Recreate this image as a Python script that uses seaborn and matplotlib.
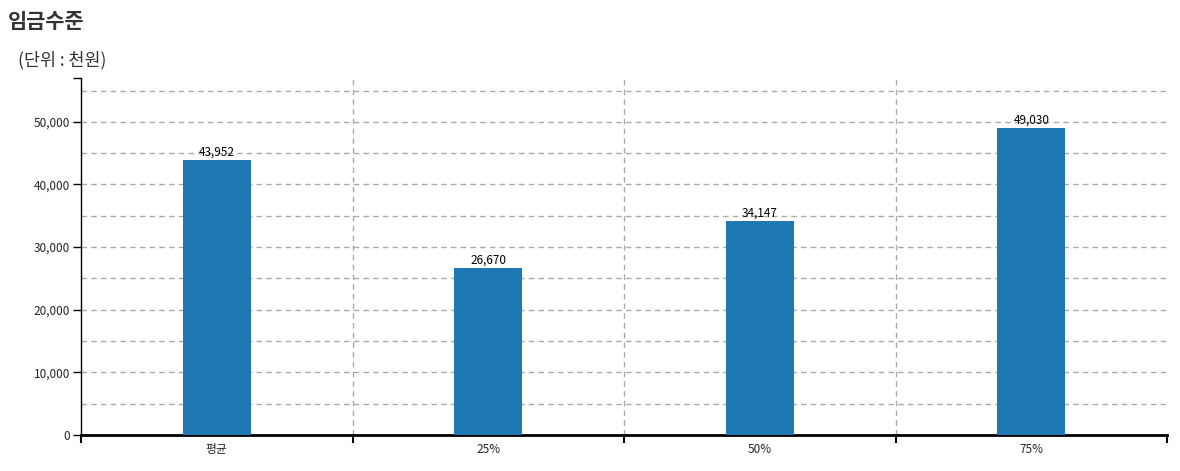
import numpy as np
import pandas as pd
import matplotlib
matplotlib.use('Agg')
import matplotlib.pyplot as plt
import seaborn as sns

categories = ['평균', '25%', '50%', '75%']
wages = [43952, 26670, 34147, 49030]

df = pd.DataFrame({'구분': categories, '임금': wages})

sns.set_style('white')
plt.rcParams['font.family'] = ['Noto Sans CJK KR', 'DejaVu Sans']

fig = plt.figure(figsize=(11.8, 4.71), dpi=100)
ax = fig.add_axes([81 / 1180, 36 / 471, (1167 - 81) / 1180, (435 - 78) / 471])

sns.barplot(x='구분', y='임금', data=df, color='#1f77b4', width=0.25,
            saturation=1, linewidth=0, ax=ax, zorder=3)

ax.set_xlim(-0.5, 3.5)
ax.set_ylim(0, 57000)
ax.set_xlabel('')
ax.set_ylabel('')

# y grid
ax.set_yticks(np.arange(0, 50001, 10000))
ax.set_yticklabels([f'{v:,}' for v in range(0, 50001, 10000)], fontsize=8.5)
ax.set_yticks([57000], minor=True)
for y in np.arange(5000, 56000, 5000):
    ax.axhline(y, color='#aaaaaa', linestyle=(0, (4, 3)), linewidth=1, zorder=1)

# x grid at category boundaries
ax.set_xticks(range(len(categories)))
ax.set_xticklabels(categories, fontsize=8.5)
ax.set_xticks([-0.5, 0.5, 1.5, 2.5, 3.5], minor=True)
for x in [0.5, 1.5, 2.5]:
    ax.axvline(x, color='#aaaaaa', linestyle=(0, (4, 3)), linewidth=1, zorder=1)
ax.axvline(3.5, color='#e6e6e6', linestyle=(0, (4, 3)), linewidth=1, zorder=1)

ax.tick_params(bottom=True, left=True, which='both', direction='out')
ax.tick_params(axis='x', which='major', length=0, pad=6)
ax.tick_params(axis='x', which='minor', length=6, width=1.5, color='black')
ax.tick_params(axis='y', which='both', length=6, width=1, color='black', pad=2)

for s in ['top', 'right']:
    ax.spines[s].set_visible(False)
ax.spines['bottom'].set_linewidth(2)
ax.spines['left'].set_linewidth(1)
ax.spines['bottom'].set_color('black')
ax.spines['left'].set_color('black')

for i, v in enumerate(wages):
    ax.text(i, v + 250, f'{v:,}', ha='center', va='bottom', fontsize=8.5, color='black')

fig.text(8 / 1180, 1 - 22 / 471, '임금수준', fontsize=15, fontweight='bold',
         color='#333333', va='center', ha='left')
fig.text(18 / 1180, 1 - 60 / 471, '(단위 : 천원)', fontsize=12.5,
         color='#333333', va='center', ha='left')

fig.savefig('out.png', dpi=100)
